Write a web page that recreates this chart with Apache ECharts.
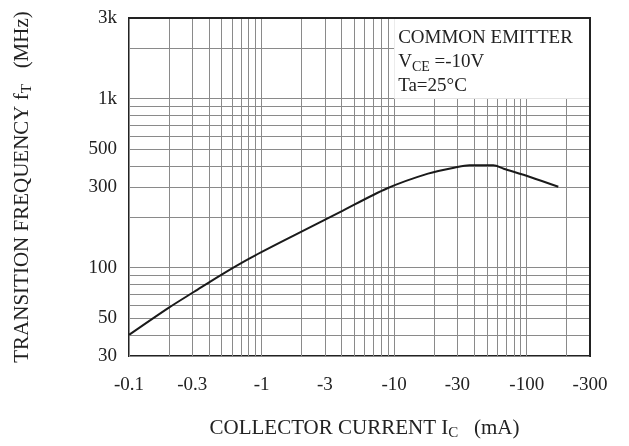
<!DOCTYPE html>
<html>
<head>
<meta charset="utf-8">
<script src="https://cdn.jsdelivr.net/npm/echarts@6/dist/echarts.min.js"></script>
<style>
html,body{margin:0;padding:0;background:#fff;}
#chart{width:629px;height:446px;}
</style>
</head>
<body>
<div id="chart"></div>
<script>
// Collector current magnitude (mA) -- currents are negative, shown with '-' sign
var currentMA = [0.1, 0.2, 0.31, 0.5, 0.84, 1.9, 3.9, 8.8, 18, 30, 37, 56, 67, 106, 173];
// Transition frequency fT (MHz)
var fTMHz = [40, 58, 72, 91, 115, 160, 213, 294, 360, 394, 403, 403, 385, 344, 301];

var xLabelValues = [0.1, 0.3, 1, 3, 10, 30, 100, 300];
var xGridValues = [0.1,0.2,0.3,0.4,0.5,0.6,0.7,0.8,0.9,1,2,3,4,5,6,7,8,9,10,20,30,40,50,60,70,80,90,100,200,300];
var yLabelValues = [30, 50, 100, 300, 500, 1000, 3000];
var yGridValues = [30,40,50,60,70,80,90,100,200,300,400,500,600,700,800,900,1000,2000,3000];

var serif = '"Liberation Serif","DejaVu Serif",serif';
function fmt(v){ return String(+(+v).toPrecision(6)); }

var frameAxis = {
  axisLine: {show: true, lineStyle: {color: '#222', width: 2}},
  axisTick: {show: false}, axisLabel: {show: false}, splitLine: {show: false}, z: 5
};

var chart = echarts.init(document.getElementById('chart'), null, {renderer:'canvas'});
chart.setOption({
  animation: false,
  backgroundColor: '#fff',
  grid: {left: 129, right: 39, top: 18, bottom: 87, show: true, borderColor: '#222', borderWidth: 2, backgroundColor: 'transparent'},
  xAxis: [{
    type: 'log', logBase: 10, min: 0.1, max: 300,
    name: '{n|COLLECTOR CURRENT I}{sub|C}{n|   (mA)}',
    nameLocation: 'middle', nameGap: 59,
    nameTextStyle: {
      padding: [0, 0, 0, 10],
      rich: {
        n: {fontFamily: serif, fontSize: 21, color: '#222', lineHeight: 26},
        sub: {fontFamily: serif, fontSize: 15, color: '#222', lineHeight: 26, verticalAlign: 'bottom'}
      }
    },
    axisLine: {show: false},
    axisTick: {show: false, customValues: xGridValues},
    axisLabel: {customValues: xLabelValues, margin: 20, fontFamily: serif, fontSize: 19, color: '#222',
      formatter: function(v){ return '-' + fmt(v); }},
    splitLine: {show: true, lineStyle: {color: '#8a8a8a', width: 1}},
    minorSplitLine: {show: false}
  }, Object.assign({type: 'log', logBase: 10, min: 0.1, max: 300, position: 'top'}, frameAxis)],
  yAxis: [{
    type: 'log', logBase: 10, min: 30, max: 3000,
    name: '{n|TRANSITION FREQUENCY f}{sub|T}{n|   (MHz)}',
    nameLocation: 'middle', nameGap: 94, nameRotate: 90,
    nameTextStyle: {
      rich: {
        n: {fontFamily: serif, fontSize: 21, color: '#222', lineHeight: 26},
        sub: {fontFamily: serif, fontSize: 15, color: '#222', lineHeight: 26, verticalAlign: 'bottom'}
      }
    },
    axisLine: {show: false},
    axisTick: {show: false, customValues: yGridValues},
    axisLabel: {customValues: yLabelValues, margin: 12, fontFamily: serif, fontSize: 19, color: '#222',
      formatter: function(v){ v = +fmt(v); return v >= 1000 ? (v/1000) + 'k' : String(v); }},
    splitLine: {show: true, lineStyle: {color: '#8a8a8a', width: 1}}
  }, Object.assign({type: 'log', logBase: 10, min: 30, max: 3000, position: 'right'}, frameAxis)],
  series: [{
    type: 'line',
    data: currentMA.map(function(x, i){ return [x, fTMHz[i]]; }),
    showSymbol: false,
    smooth: 0.3,
    lineStyle: {color: '#1a1a1a', width: 2},
    markArea: {
      silent: true,
      itemStyle: {color: '#fff', opacity: 1},
      label: {
        show: true, position: 'insideTopLeft', distance: 0,
        padding: [8, 0, 0, 4],
        formatter: '{n|COMMON EMITTER}\n{n|V}{sub|CE}{n| =-10V}\n{n|Ta=25°C}',
        rich: {
          n: {fontFamily: serif, fontSize: 19, color: '#222', lineHeight: 24},
          sub: {fontFamily: serif, fontSize: 14, color: '#222', lineHeight: 24, verticalAlign: 'bottom'}
        }
      },
      data: [[{coord: [10, 1000]}, {coord: [300, 3000]}]]
    }
  }]
});
</script>
</body>
</html>
